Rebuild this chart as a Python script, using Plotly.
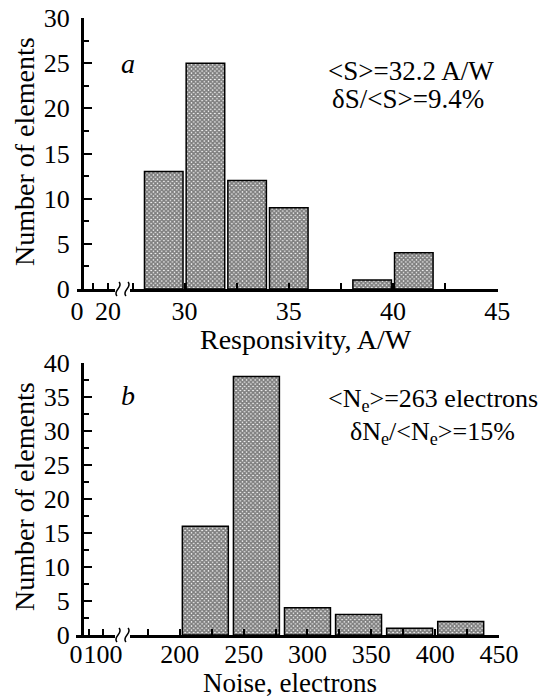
import plotly.graph_objects as go

# ---- data ----
resp_centers = [29, 31, 33, 35, 39, 41]          # A/W, bin centres (2 A/W bins)
resp_counts = [13, 25, 12, 9, 1, 4]
noise_centers = [220, 260, 300, 340, 380, 420]    # electrons, bin centres (40 e- bins)
noise_counts = [16, 38, 4, 3, 1, 2]

resp_ticks = [30, 35, 40, 45]
resp_left_ticks = [0, 20]
noise_ticks = [200, 250, 300, 350, 400, 450]
noise_left_ticks = [0, 100]

W, H = 554, 698
FONT = "Liberation Serif"


def fx(p):
    return p / W


def fy(p):
    return 1 - p / H


fig = go.Figure()

pattern = dict(shape="x", size=3, solidity=0.8, fgcolor="black", bgcolor="white")

fig.add_trace(go.Scatter(x=[], y=[], xaxis="x", yaxis="y", showlegend=False))
fig.add_trace(go.Scatter(x=[], y=[], xaxis="x3", yaxis="y2", showlegend=False))
fig.add_trace(go.Bar(x=resp_centers, y=resp_counts, width=1.85, xaxis="x2", yaxis="y",
                     marker=dict(color="white", line=dict(color="black", width=1.5), pattern=pattern),
                     showlegend=False))
fig.add_trace(go.Bar(x=noise_centers, y=noise_counts, width=36, xaxis="x4", yaxis="y2",
                     marker=dict(color="white", line=dict(color="black", width=1.5), pattern=pattern),
                     showlegend=False))

tickfont = dict(family=FONT, size=26, color="black")
common_x = dict(showline=True, linewidth=3, linecolor="black", showgrid=False, zeroline=False,
                ticks="inside", ticklen=6, tickwidth=2, tickcolor="black", tickfont=tickfont,
                tickmode="array", ticklabelstandoff=-3, tickangle=0, automargin=False)
common_y = dict(showline=True, linewidth=3, linecolor="black", showgrid=False, zeroline=False,
                ticks="inside", ticklen=8, tickwidth=2, tickcolor="black", tickfont=tickfont,
                anchor="free", position=fx(82), ticklabelstandoff=6, automargin=False)

fig.update_layout(
    width=W, height=H, margin=dict(l=0, r=0, t=0, b=0, pad=0, autoexpand=False),
    paper_bgcolor="white", plot_bgcolor="white", showlegend=False,
    font=dict(family=FONT, color="black"),
    xaxis=dict(common_x, domain=[fx(77), fx(115)], range=[0, 24.5], anchor="y",
               tickvals=resp_left_ticks, ticktext=[str(v) for v in resp_left_ticks],
               minor=dict(tickvals=[10], ticks="inside", ticklen=6, tickwidth=2, tickcolor="black")),
    xaxis2=dict(common_x, domain=[fx(130), fx(498)], range=[27.38, 45.04], anchor="y",
                tickvals=resp_ticks, ticktext=[str(v) for v in resp_ticks],
                minor=dict(tick0=27.5, dtick=2.5, ticks="inside", ticklen=6, tickwidth=2, tickcolor="black")),
    xaxis3=dict(common_x, domain=[fx(76), fx(115)], range=[0, 145], anchor="y2", ticklabelstandoff=-6,
                tickvals=noise_left_ticks, ticktext=[str(v) for v in noise_left_ticks],
                minor=dict(tickvals=[50], ticks="inside", ticklen=6, tickwidth=2, tickcolor="black")),
    xaxis4=dict(common_x, domain=[fx(130), fx(499)], range=[161, 450], anchor="y2", ticklabelstandoff=-6,
                tickvals=noise_ticks, ticktext=[str(v) for v in noise_ticks],
                minor=dict(tick0=175, dtick=25, ticks="inside", ticklen=6, tickwidth=2, tickcolor="black")),
    yaxis=dict(common_y, domain=[fy(289), fy(18)], range=[0, 30], dtick=5, tick0=0,
               minor=dict(dtick=2.5, ticks="inside", ticklen=5, tickwidth=2, tickcolor="black")),
    yaxis2=dict(common_y, domain=[fy(635), fy(363)], range=[0, 40], dtick=5, tick0=0,
                minor=dict(dtick=2.5, ticks="inside", ticklen=5, tickwidth=2, tickcolor="black")),
)


# axis break marks
def wiggle(c, Y):
    pts = [(c - 1, Y + 7), (c - 6, Y + 2), (c + 6, Y - 2), (c + 1, Y - 7)]
    p = [(fx(a), fy(b)) for a, b in pts]
    return "M %f,%f C %f,%f %f,%f %f,%f" % (p[0] + p[1] + p[2] + p[3])


shapes = []
for Y in (289, 635):
    for c in (118, 127):
        shapes.append(dict(type="path", path=wiggle(c, Y), xref="paper", yref="paper",
                           line=dict(color="black", width=1.5)))
fig.update_layout(shapes=shapes)


def ann(text, x, y, size, **kw):
    d = dict(text=text, x=fx(x), y=fy(y), xref="paper", yref="paper", showarrow=False,
             xanchor="center", yanchor="middle", font=dict(family=FONT, size=size, color="black"))
    d.update(kw)
    fig.add_annotation(**d)


ann("Number of elements", 24, 152, 28, textangle=-90)
ann("Number of elements", 24, 497, 28, textangle=-90)
ann("Responsivity, A/W", 306, 339, 28)
ann("Noise, electrons", 290, 683, 27)
ann("<i>a</i>", 128, 63, 28)
ann("<i>b</i>", 128, 395, 28)
ann("&lt;S&gt;=32.2 A/W", 411, 71, 27)
ann("δS/&lt;S&gt;=9.4%", 408, 99, 27)
ann("&lt;N<sub>e</sub>&gt;=263 electrons", 433, 400, 26)
ann("δN<sub>e</sub>/&lt;N<sub>e</sub>&gt;=15%", 432, 433, 26)

fig.write_html("out.html", config={"displayModeBar": False},
               post_script="document.body.style.margin='0';document.body.style.overflow='hidden';")
